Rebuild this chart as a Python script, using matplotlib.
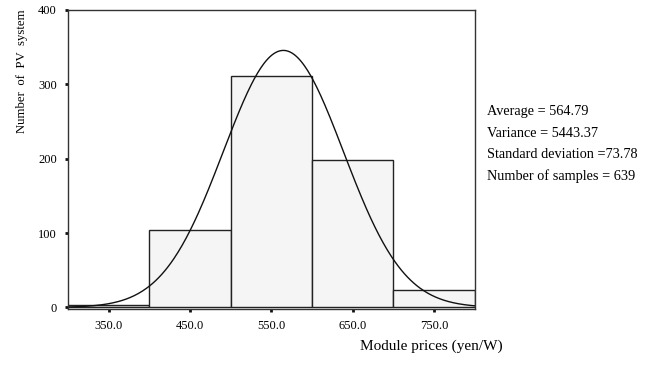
import numpy as np
import matplotlib
matplotlib.use("Agg")
import matplotlib.pyplot as plt

bin_edges = [300, 400, 500, 600, 700, 800]
counts = [3, 104, 311, 198, 23]
mean = 564.79
variance = 5443.37
sd = 73.78
n = 639
xticks = [350.0, 450.0, 550.0, 650.0, 750.0]
yticks = [0, 100, 200, 300, 400]

plt.rcParams['font.family'] = ['Liberation Serif', 'DejaVu Serif']

fig = plt.figure(figsize=(6.46, 3.66), dpi=100)
ax = fig.add_axes([0.105, 0.156, 0.63, 0.817])

lefts = bin_edges[:-1]
widths = np.diff(bin_edges)
ax.bar(lefts, counts, width=widths, align='edge', color='#f5f5f5',
       edgecolor='#222222', linewidth=1.0)

xs = np.linspace(300, 800, 400)
binw = 100
ys = n * binw / (sd * np.sqrt(2 * np.pi)) * np.exp(-0.5 * ((xs - mean) / sd) ** 2)
ax.plot(xs, ys, color='#111111', linewidth=1.0)

ax.set_xlim(300, 800)
ax.set_ylim(-2, 400)
ax.set_xticks(xticks)
ax.set_xticklabels([f"{v:.1f}" for v in xticks], fontsize=9)
ax.set_yticks(yticks)
ax.set_yticklabels([str(v) for v in yticks], fontsize=9)
ax.tick_params(direction='out', length=2, width=2, color='#111111', pad=6)
for s in ax.spines.values():
    s.set_linewidth(1.0)
    s.set_color('#333333')

fig.text(0.034, 0.805, "Number  of  PV  system", fontsize=9.2, rotation=90,
         ha='center', va='center')
fig.text(0.668, 0.035, "Module prices (yen/W)", fontsize=11, ha='center', va='bottom')

stats = ["Average = 564.79", "Variance = 5443.37",
         "Standard deviation =73.78", "Number of samples = 639"]
for i, s in enumerate(stats):
    fig.text(0.754, 1 - (112 + 21.5 * i) / 366, s, fontsize=10.3, va='center', ha='left')

fig.savefig("out.png", dpi=100)
